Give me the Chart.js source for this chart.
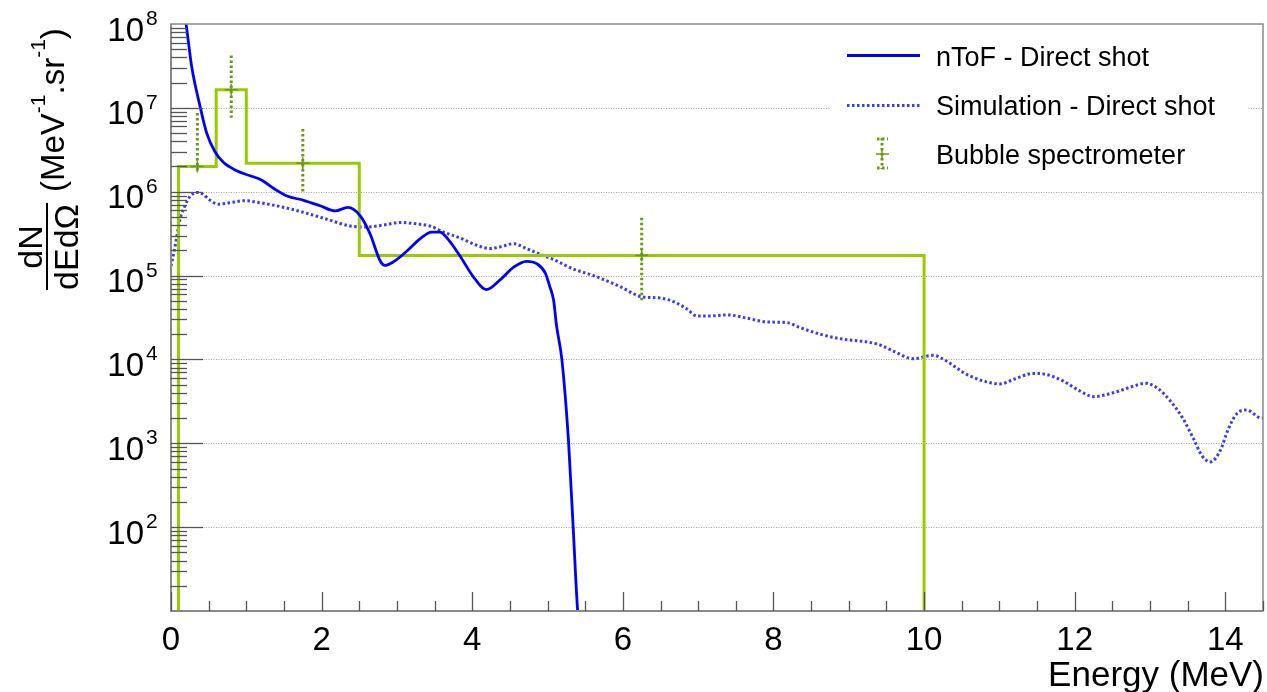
<!DOCTYPE html>
<html>
<head>
<meta charset="utf-8">
<script src="https://cdn.jsdelivr.net/npm/chart.js@4/dist/chart.umd.min.js"></script>
<style>
html,body{margin:0;padding:0;background:#fff;}
canvas{display:block;}
</style>
</head>
<body>
<canvas id="spec" width="1267" height="692"></canvas>
<script>
// nToF measurement (MeV, counts)
const ntofE=[0.185,0.20,0.275,0.385,0.474,0.584,0.695,0.872,1.05,1.20,1.36,1.54,1.76,1.98,2.18,2.35,2.51,2.64,2.78,2.84,2.95,3.13,3.31,3.46,3.57,3.68,3.84,4.01,4.19,4.37,4.55,4.72,4.86,4.97,5.03,5.08,5.12,5.19,5.28,5.34,5.40,5.43];
const ntofV=[1.2e8,1.0e8,3.1e7,1.05e7,5.0e6,3.0e6,2.24e6,1.78e6,1.55e6,1.38e6,1.10e6,8.9e5,7.9e5,6.8e5,5.9e5,6.5e5,5.2e5,3.2e5,1.48e5,1.32e5,1.45e5,1.95e5,2.75e5,3.3e5,3.3e5,2.7e5,1.7e5,9.8e4,6.8e4,8.9e4,1.26e5,1.48e5,1.38e5,1.07e5,7.4e4,5.1e4,2.5e4,1.0e4,1.0e3,100,10,6];

// simulation
const simE=[0,0.053,0.12,0.186,0.25,0.34,0.41,0.52,0.63,0.78,0.98,1.18,1.40,1.69,2.07,2.38,2.60,2.82,3.04,3.30,3.44,3.62,3.84,4.06,4.24,4.37,4.55,4.72,4.90,5.08,5.34,5.61,5.96,6.25,6.49,6.67,6.85,6.98,7.16,7.38,7.65,7.91,8.18,8.35,8.62,8.93,9.24,9.42,9.59,9.86,10.12,10.26,10.57,10.83,11.01,11.19,11.45,11.63,11.85,12.07,12.25,12.51,12.78,12.94,13.09,13.27,13.44,13.58,13.69,13.80,13.93,14.04,14.15,14.28,14.48,14.5];
const simV=[1.3e5,2.2e5,4.7e5,6.8e5,8.7e5,9.8e5,9.5e5,7.9e5,7.1e5,7.4e5,7.8e5,7.4e5,6.8e5,5.9e5,4.7e5,3.9e5,3.8e5,4.0e5,4.3e5,4.1e5,3.9e5,3.3e5,2.8e5,2.3e5,2.1e5,2.2e5,2.4e5,2.1e5,1.8e5,1.55e5,1.2e5,1.0e5,7.4e4,5.6e4,5.4e4,4.9e4,4.0e4,3.3e4,3.3e4,3.4e4,3.1e4,2.8e4,2.75e4,2.4e4,2.0e4,1.74e4,1.62e4,1.48e4,1.26e4,1.02e4,1.12e4,1.0e4,6.6e3,5.4e3,5.1e3,5.8e3,6.8e3,6.6e3,5.5e3,4.2e3,3.6e3,4.0e3,4.8e3,5.2e3,4.6e3,3.2e3,1.95e3,1.12e3,710,600,810,1.48e3,2.24e3,2.5e3,2.0e3,2.0e3];

// bubble spectrometer bins
const binEdges=[0.1,0.6,1.0,2.5,10];
const binVals=[2.0e6,1.64e7,2.19e6,1.73e5];
const bubE=[0.35,0.8,1.75,6.25];
const bubLo=[1.7e6,7.6e6,9.5e5,4.8e4];
const bubHi=[8.7e6,4.2e7,5.6e6,4.9e5];

const xTicks=[0,2,4,6,8,10,12,14];
const yExps=[2,3,4,5,6,7,8];

const FONT='"Liberation Sans", Arial, Helvetica, sans-serif';
const GREEN='#99cc00', DKGREEN='#6a9a14', BLUE='#0000ff', SIMBLUE='#3a3aff';

const pts=(xs,ys)=>xs.map((x,i)=>({x,y:ys[i]}));
// step outline: up from below the axis, one level per bin, back down at the last edge
const histPts=[{x:binEdges[0],y:1}];
binVals.forEach((v,i)=>histPts.push({x:binEdges[i],y:v}));
histPts.push({x:binEdges[binEdges.length-1],y:binVals[binVals.length-1]});
histPts.push({x:binEdges[binEdges.length-1],y:1});

const rootStyle={
  id:'rootStyle',
  beforeDatasetsDraw(chart){
    const {ctx,chartArea:a,scales:{y}}=chart;
    ctx.save();
    ctx.strokeStyle='#a0a0a0';ctx.lineWidth=1;ctx.setLineDash([1,1.5]);
    yExps.slice(0,-1).forEach(e=>{
      const py=Math.round(y.getPixelForValue(Math.pow(10,e)))+0.5;
      ctx.beginPath();ctx.moveTo(a.left,py);ctx.lineTo(a.right,py);ctx.stroke();
    });
    ctx.restore();
  },
  afterDatasetsDraw(chart){
    const {ctx,chartArea:a,scales:{x,y}}=chart;
    ctx.save();
    // error bars
    ctx.strokeStyle=DKGREEN;ctx.lineWidth=3;ctx.setLineDash([2.5,2.5]);
    bubE.forEach((e,i)=>{
      const px=x.getPixelForValue(e);
      ctx.beginPath();ctx.moveTo(px,y.getPixelForValue(bubHi[i]));ctx.lineTo(px,y.getPixelForValue(bubLo[i]));ctx.stroke();
    });
    ctx.setLineDash([]);
    ctx.lineWidth=1.5;
    bubE.forEach((e,i)=>{
      const px=x.getPixelForValue(e),py=y.getPixelForValue(binVals[i]);
      ctx.beginPath();ctx.moveTo(px-6.5,py);ctx.lineTo(px+6.5,py);ctx.moveTo(px,py-6);ctx.lineTo(px,py+6);ctx.stroke();
    });
    // frame
    ctx.strokeStyle='#8a8a8a';ctx.lineWidth=1.5;
    ctx.strokeRect(a.left,a.top,a.right-a.left,a.bottom-a.top);
    ctx.lineWidth=2;
    ctx.beginPath();ctx.moveTo(a.left,a.top);ctx.lineTo(a.left,a.bottom);ctx.lineTo(a.right,a.bottom);ctx.stroke();
    // y ticks
    ctx.strokeStyle='#555';ctx.lineWidth=1.3;
    for(let e=1;e<8;e++){
      for(let m=1;m<10;m++){
        if(m===1&&e===1)continue;
        const py=Math.round(y.getPixelForValue(m*Math.pow(10,e)))+0.5;
        const len=m===1?32:16;
        ctx.beginPath();ctx.moveTo(a.left,py);ctx.lineTo(a.left+len,py);ctx.stroke();
      }
    }
    // x ticks
    for(let v=0;v<=14.5;v+=0.5){
      const px=Math.round(x.getPixelForValue(v))+0.5;
      const len=(v%2===0)?19:10;
      ctx.beginPath();ctx.moveTo(px,a.bottom);ctx.lineTo(px,a.bottom-len);ctx.stroke();
    }
    // tick labels
    ctx.fillStyle='#000';ctx.textBaseline='alphabetic';
    ctx.font='33px '+FONT;ctx.textAlign='center';
    xTicks.forEach(t=>ctx.fillText(String(t),x.getPixelForValue(t),650));
    yExps.forEach(e=>{
      const py=y.getPixelForValue(Math.pow(10,e));
      ctx.font='33px '+FONT;ctx.textAlign='right';
      ctx.fillText('10',144,py+16.5);
      ctx.font='21px '+FONT;ctx.textAlign='left';
      ctx.fillText(String(e),146,py+1);
    });
    // axis titles
    ctx.font='35px '+FONT;ctx.textAlign='right';
    ctx.fillText('Energy (MeV)',1264,686);
    const rot=(txt,sx,sy,font,align)=>{
      ctx.save();ctx.translate(sx,sy);ctx.rotate(-Math.PI/2);
      ctx.font=font;ctx.textAlign=align;ctx.fillText(txt,0,0);ctx.restore();
    };
    rot('dN',42,247,'34px '+FONT,'center');
    rot('dEdΩ',78,247,'34px '+FONT,'center');
    ctx.fillRect(46,203,2,87);
    // (MeV-1.sr-1)
    const parts=[['(MeV',33,0],['-1',21,19],['.sr',33,0],['-1',21,19],[')',33,0]];
    let off=0;
    parts.forEach(([t,s,r])=>{
      ctx.font=s+'px '+FONT;
      const w=ctx.measureText(t).width;
      ctx.save();ctx.translate(64-r,192-off);ctx.rotate(-Math.PI/2);ctx.textAlign='left';ctx.fillText(t,0,0);ctx.restore();
      off+=w;
    });
    // legend
    ctx.fillStyle='#fff';ctx.fillRect(831,35,416,145);
    const ds=chart.data.datasets;
    ctx.fillStyle='#000';ctx.font='27px '+FONT;ctx.textAlign='left';
    ctx.strokeStyle=BLUE;ctx.lineWidth=2.8;
    ctx.beginPath();ctx.moveTo(847,55.5);ctx.lineTo(920,55.5);ctx.stroke();
    ctx.fillText(ds[0].label,936,66);
    ctx.strokeStyle=SIMBLUE;ctx.lineWidth=3;ctx.setLineDash([2.5,2.5]);
    ctx.beginPath();ctx.moveTo(847,105.5);ctx.lineTo(920,105.5);ctx.stroke();
    ctx.fillText(ds[2].label,936,115);
    ctx.strokeStyle=DKGREEN;
    ctx.beginPath();ctx.moveTo(882,138);ctx.lineTo(882,169);ctx.moveTo(877,139);ctx.lineTo(888,139);ctx.moveTo(877,168);ctx.lineTo(888,168);ctx.stroke();
    ctx.setLineDash([]);ctx.lineWidth=1.5;
    ctx.beginPath();ctx.moveTo(876,154);ctx.lineTo(889,154);ctx.moveTo(882,148);ctx.lineTo(882,160);ctx.stroke();
    ctx.fillText(ds[3].label,936,164);
    ctx.restore();
  }
};

new Chart(document.getElementById('spec'),{
  type:'scatter',
  data:{datasets:[
    {label:'nToF - Direct shot',data:pts(ntofE,ntofV),showLine:true,borderColor:BLUE,borderWidth:2.8,pointRadius:0,cubicInterpolationMode:'monotone',clip:0},
    {label:'Bubble histogram',data:histPts,showLine:true,stepped:'before',borderColor:GREEN,borderWidth:3,pointRadius:0,clip:0},
    {label:'Simulation - Direct shot',data:pts(simE,simV),showLine:true,borderColor:SIMBLUE,borderWidth:3,borderDash:[2.5,2.5],pointRadius:0,cubicInterpolationMode:'monotone',clip:0},
    {label:'Bubble spectrometer',data:pts(bubE,binVals),pointRadius:0,showLine:false}
  ]},
  options:{
    responsive:false,animation:false,devicePixelRatio:1,
    layout:{padding:{left:171,top:24,right:4,bottom:81}},
    plugins:{legend:{display:false},tooltip:{enabled:false}},
    scales:{
      x:{type:'linear',min:0,max:14.5,display:false},
      y:{type:'logarithmic',min:10,max:1e8,display:false}
    }
  },
  plugins:[rootStyle]
});
</script>
</body>
</html>
